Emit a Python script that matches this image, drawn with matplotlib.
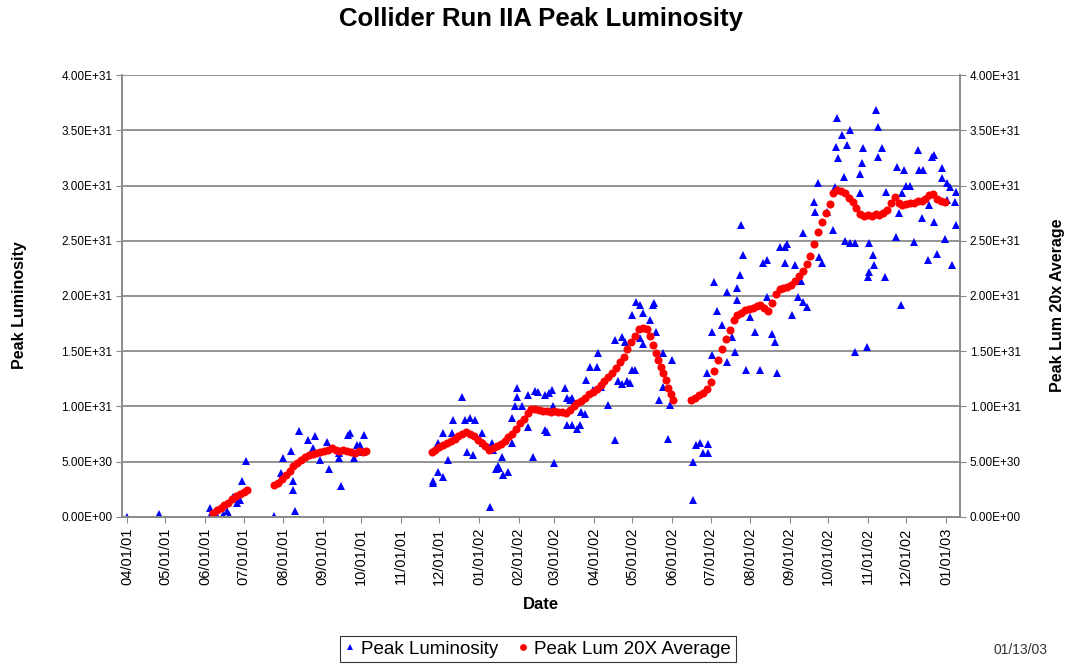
import matplotlib
matplotlib.use("Agg")
import matplotlib.pyplot as plt
import matplotlib.dates as mdates
from matplotlib.ticker import FuncFormatter
import numpy as np
import pandas as pd

plt.rcParams["font.family"] = ["Liberation Sans", "DejaVu Sans"]

# days counted from 04/01/01, luminosity in units of 1E31
START = pd.Timestamp("2001-04-01")

lum_day = [
    0, 25, 25, 65, 65, 70, 75, 80, 78, 83, 86, 88, 90, 93,
    115, 120, 122, 128, 130, 130, 131, 134, 141, 145, 145, 147, 151, 156, 158,
    166, 166, 167, 173, 174, 177, 180, 182, 185, 184,
    239, 239, 243, 247, 243, 247, 254, 251, 255, 262, 264, 268, 272, 266, 270,
    277, 278, 284, 285, 286, 288, 290, 291, 294, 298, 293, 301, 301, 303, 305,
    305, 309, 313, 313, 319, 321, 317, 327, 330, 332, 327, 328, 333, 334, 342,
    344, 346, 348, 344, 348, 352, 354, 355, 358, 359, 362, 367, 368, 364, 370,
    376, 381, 381, 387, 389, 384, 387, 391, 395, 395, 398,
    401, 403, 409, 411, 412, 401, 403, 413, 397, 393, 419, 426, 416, 419, 424,
    423, 442, 442, 445, 448, 454, 450, 454, 453, 457, 457, 459, 461, 465, 469,
    469, 473, 475, 477, 477, 479, 480, 481, 484, 487, 491, 495, 497, 500, 500,
    504, 506, 508, 510, 514, 516, 514, 522, 520, 524, 528, 531, 528, 527,
    537, 538, 540, 541, 543, 547, 552, 553, 554, 555, 556, 559, 560, 563, 565,
    561, 565, 569, 569, 578, 573, 574, 575, 573, 579, 580, 580, 583, 584, 585,
    587, 587, 590, 592, 593, 601, 602, 603, 605, 607, 609, 612, 606, 615, 618,
    619, 622, 621, 626, 627, 629, 631, 631, 633, 637, 637, 639, 641, 643, 641,
    645, 647, 648, 648,
]
lum_val = [
    0.00, 0.03, 0.01, 0.08, 0.01, 0.01, 0.02, 0.02, 0.05, 0.18, 0.13, 0.15, 0.33, 0.51,
    0.01, 0.40, 0.53, 0.60, 0.33, 0.24, 0.05, 0.78, 0.70, 0.62, 0.58, 0.73, 0.52, 0.68, 0.43,
    0.58, 0.53, 0.28, 0.74, 0.76, 0.53, 0.65, 0.65, 0.74, 0.59,
    0.31, 0.33, 0.41, 0.36, 0.67, 0.76, 0.76, 0.52, 0.88, 1.09, 0.88, 0.90, 0.88, 0.59, 0.56,
    0.76, 0.67, 0.09, 0.67, 0.61, 0.43, 0.46, 0.44, 0.38, 0.41, 0.54, 0.90, 0.67, 1.00, 1.17,
    1.09, 1.00, 0.81, 1.10, 1.14, 1.13, 0.54, 1.10, 1.12, 1.15, 0.79, 0.77, 1.00, 0.49, 1.17,
    1.08, 1.06, 1.08, 0.83, 0.83, 0.80, 0.83, 0.95, 0.93, 1.24, 1.36, 1.36, 1.48, 1.15, 1.18,
    1.01, 0.70, 1.60, 1.63, 1.58, 1.23, 1.20, 1.23, 1.33, 1.83, 1.95,
    1.92, 1.85, 1.78, 1.92, 1.94, 1.62, 1.57, 1.67, 1.33, 1.21, 1.48, 1.42, 1.06, 1.18, 1.01,
    0.71, 0.15, 0.50, 0.65, 0.67, 0.66, 0.58, 0.58, 1.30, 1.47, 1.67, 2.13, 1.86, 1.74, 2.04,
    1.40, 1.63, 1.49, 1.96, 2.07, 2.19, 2.64, 2.37, 1.33, 1.81, 1.67, 1.33, 2.30, 2.33, 1.99,
    1.66, 1.58, 1.30, 2.44, 2.44, 2.47, 2.30, 2.28, 1.83, 1.99, 1.95, 1.90, 2.57, 2.14,
    2.85, 2.76, 3.02, 2.35, 2.30, 2.76, 2.60, 2.99, 3.35, 3.61, 3.25, 3.46, 3.08, 3.37, 3.50,
    2.50, 2.48, 2.48, 1.49, 1.54, 3.10, 3.20, 3.34, 2.93, 2.17, 2.22, 2.48, 2.37, 2.28, 3.68,
    3.53, 3.26, 3.34, 2.17, 2.94, 2.53, 3.17, 2.75, 1.92, 3.14, 3.00, 3.00, 2.93, 2.49, 3.32,
    3.14, 3.14, 2.71, 2.33, 2.82, 3.26, 3.28, 2.67, 2.38, 3.16, 3.07, 2.52, 3.02, 2.99, 2.87,
    2.28, 2.85, 2.64, 2.94,
]

avg_day = [
    67, 70, 73, 76, 79, 82, 85, 88, 91, 94,
    115, 118, 121, 124, 127, 130, 133, 136, 139, 142, 145, 148, 151, 154, 157,
    160, 163, 166, 169, 172, 175, 178, 181, 184, 187,
    238, 241, 244, 247, 250, 253, 256, 259, 262, 265, 268, 271, 274, 277, 280,
    283, 286, 289, 292, 295, 298, 301, 304, 307, 310, 313, 316, 319, 322, 325,
    328, 331, 334, 337, 340, 343, 346, 349, 352, 355, 358, 361, 364, 367, 370,
    373, 376, 379, 382, 385, 388, 391, 394, 397, 400, 403, 406, 409, 411, 413,
    415, 417, 419, 421, 423, 425, 427,
    441, 444, 447, 450, 453, 456, 459, 462, 465, 468, 471, 474, 477, 480, 483,
    486, 489, 492, 495, 498, 501, 504, 507, 510, 513, 516, 519, 522, 525, 528,
    531, 534, 537, 540, 543, 546, 549, 552, 555, 558, 561, 564, 567, 570, 573,
    576, 579, 582, 585, 588, 591, 594, 597, 600, 603, 606, 609, 612, 615, 618,
    621, 624, 627, 630, 633, 636, 639,
]
avg_val = [
    0.04, 0.06, 0.08, 0.11, 0.13, 0.16, 0.19, 0.21, 0.23, 0.24,
    0.29, 0.31, 0.34, 0.38, 0.42, 0.46, 0.49, 0.52, 0.54, 0.56, 0.57, 0.58, 0.59, 0.60, 0.61,
    0.62, 0.61, 0.60, 0.61, 0.60, 0.59, 0.58, 0.60, 0.59, 0.60,
    0.59, 0.61, 0.63, 0.65, 0.67, 0.69, 0.71, 0.73, 0.75, 0.77, 0.75, 0.73, 0.70, 0.67, 0.64,
    0.61, 0.62, 0.64, 0.66, 0.69, 0.72, 0.75, 0.80, 0.85, 0.89, 0.94, 0.98, 0.98, 0.97, 0.96,
    0.96, 0.95, 0.96, 0.95, 0.95, 0.94, 0.97, 1.00, 1.03, 1.05, 1.08, 1.11, 1.13, 1.16, 1.19,
    1.23, 1.27, 1.30, 1.35, 1.40, 1.45, 1.52, 1.58, 1.64, 1.70, 1.71, 1.70, 1.64, 1.56, 1.48,
    1.42, 1.36, 1.30, 1.24, 1.17, 1.11, 1.06,
    1.06, 1.08, 1.10, 1.12, 1.16, 1.22, 1.32, 1.42, 1.52, 1.61, 1.69, 1.78, 1.83, 1.85, 1.87,
    1.88, 1.89, 1.91, 1.92, 1.89, 1.86, 1.94, 2.02, 2.06, 2.07, 2.08, 2.10, 2.14, 2.18, 2.23,
    2.29, 2.36, 2.47, 2.58, 2.67, 2.75, 2.83, 2.93, 2.96, 2.95, 2.93, 2.89, 2.85, 2.80, 2.74,
    2.72, 2.73, 2.72, 2.74, 2.73, 2.75, 2.78, 2.84, 2.90, 2.84, 2.82, 2.83, 2.84, 2.84, 2.86,
    2.86, 2.88, 2.91, 2.92, 2.88, 2.86, 2.85,
]

y_ticks = [0, 0.5e31, 1.0e31, 1.5e31, 2.0e31, 2.5e31, 3.0e31, 3.5e31, 4.0e31]

lum_dates = START + pd.to_timedelta(lum_day, unit="D")
avg_dates = START + pd.to_timedelta(avg_day, unit="D")
lum = np.array(lum_val) * 1e31
avg = np.array(avg_val) * 1e31

fig = plt.figure(figsize=(10.71, 6.65), dpi=100)
ax = fig.add_axes([0.1139, 0.2226, 0.7825, 0.6646])
ax2 = ax.twinx()

grid_col = "#8a8a8a"
sci = FuncFormatter(lambda v, _: format(v, ".2E"))
for a in (ax, ax2):
    a.set_ylim(0, 4.0e31)
    a.set_yticks(y_ticks)
    a.yaxis.set_major_formatter(sci)
    a.tick_params(axis="y", labelsize=8.5, length=4, color=grid_col, pad=3)
    for s in a.spines.values():
        s.set_color(grid_col)
        s.set_linewidth(1.2)
    a.spines["top"].set_visible(False)

ax.grid(axis="y", color=grid_col, linewidth=1.3)
ax.set_axisbelow(True)

ax.plot(lum_dates, lum, linestyle="none", marker="^", color="#0000ff",
        markersize=5.5, markeredgewidth=0, label="Peak Luminosity")
ax2.plot(avg_dates, avg, linestyle="none", marker="o", color="#ff0000",
         markersize=5.8, markeredgewidth=0, label="Peak Lum 20X Average")

ax.set_xlim(START - pd.Timedelta(days=4), START + pd.Timedelta(days=651))
ax.xaxis.set_major_locator(mdates.MonthLocator())
ax.xaxis.set_major_formatter(mdates.DateFormatter("%m/%d/%y"))
ax.tick_params(axis="x", labelsize=10.5, rotation=90, length=4, color=grid_col)

fig.suptitle("Collider Run IIA Peak Luminosity", fontsize=18.5, fontweight="bold",
             x=0.505, y=0.972, va="center")
ax.set_xlabel("Date", fontsize=12, fontweight="bold")
ax.xaxis.set_label_coords(0.5, -0.181)
ax.set_ylabel("Peak Luminosity", fontsize=11.5, fontweight="bold")
ax.yaxis.set_label_coords(-0.113, 0.48)
ax2.set_ylabel("Peak Lum 20x Average", fontsize=11.5, fontweight="bold")
ax2.yaxis.set_label_coords(1.107, 0.48)

h1, l1 = ax.get_legend_handles_labels()
h2, l2 = ax2.get_legend_handles_labels()
leg = fig.legend(h1 + h2, l1 + l2, loc="center", bbox_to_anchor=(0.502, 0.024),
                 ncol=2, fontsize=13.5, frameon=True, fancybox=False,
                 handlelength=0.6, handletextpad=0.3, columnspacing=1.0,
                 borderpad=0.25, markerscale=0.85)
leg.get_frame().set_edgecolor("#000000")
leg.get_frame().set_linewidth(0.8)

fig.text(0.953, 0.022, "01/13/03", fontsize=10, ha="center", va="center", color="#333333")

fig.savefig("out.png", dpi=100)
plt.close(fig)
